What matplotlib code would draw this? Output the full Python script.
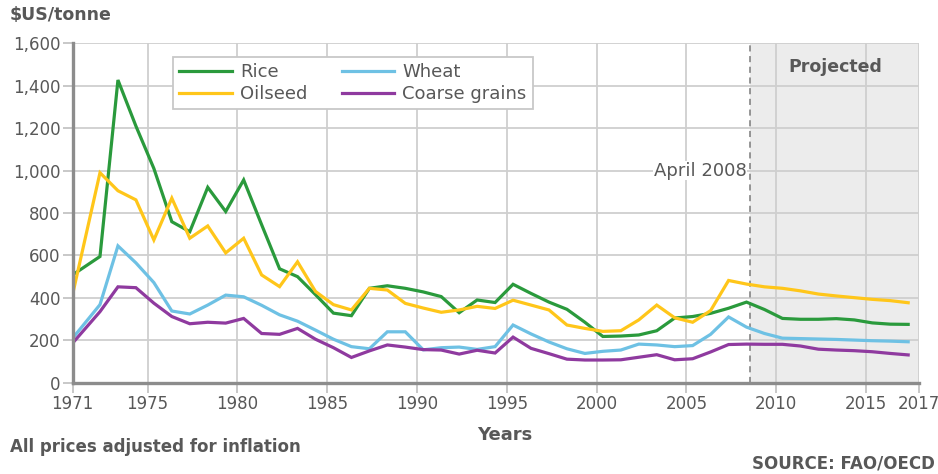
import numpy as np
import matplotlib
matplotlib.use("Agg")
import matplotlib.pyplot as plt
from matplotlib.ticker import FuncFormatter

plt.rcParams['font.family'] = ['DejaVu Sans']

years = np.arange(1971, 2018)

rice = [508, 595, 1427, 1210, 1010, 759, 712, 921, 807, 956,
        745, 537, 500, 415, 328, 316, 445, 457, 445, 428,
        406, 330, 390, 378, 464, 421, 380, 346, 285, 218,
        220, 225, 245, 305, 312, 327, 351, 380, 345, 303,
        299, 299, 302, 296, 282, 276, 275]
oilseed = [414, 990, 905, 862, 673, 870, 681, 739, 612, 681,
           508, 453, 570, 430, 368, 343, 445, 437, 374, 352,
           332, 343, 360, 350, 389, 366, 343, 272, 256, 242,
           245, 296, 366, 306, 285, 340, 482, 465, 452, 445,
           433, 418, 409, 401, 393, 387, 377]
wheat = [209, 368, 645, 565, 472, 338, 324, 366, 413, 405,
         365, 320, 290, 248, 205, 170, 160, 240, 240, 155,
         165, 168, 157, 170, 272, 230, 192, 160, 138, 148,
         154, 182, 178, 170, 175, 228, 310, 262, 232, 210,
         208, 206, 204, 201, 198, 196, 193]
coarse = [186, 335, 452, 448, 375, 312, 278, 285, 281, 303,
          232, 228, 256, 205, 165, 119, 150, 178, 168, 156,
          154, 135, 153, 140, 215, 162, 137, 111, 107, 107,
          108, 120, 132, 108, 113, 145, 180, 182, 181, 181,
          173, 158, 154, 151, 146, 138, 131]

series_names = ["Rice", "Oilseed", "Wheat", "Coarse grains"]
series_colors = ["#2a9a3c", "#ffc61a", "#6ec1e4", "#8f3a9f"]

x_ticks = [1971, 1975, 1980, 1985, 1990, 1995, 2000, 2005, 2010, 2015, 2017]
y_ticks = [0, 200, 400, 600, 800, 1000, 1200, 1400, 1600]

XMIN, XMAX = 1970.82, 2017.93
PROJ_START = 2008.56
GREY = "#585858"

fig = plt.figure(figsize=(9.38, 4.74), dpi=100)
ax = fig.add_axes([0.0773, 0.1926, 0.902, 0.716])

ax.axvspan(PROJ_START, XMAX, color="#ececec", zorder=0, lw=0)

xpos = (years + 0.35).astype(float)
xpos[0] = XMIN
for vals, name, col in zip([rice, oilseed, wheat, coarse], series_names, series_colors):
    ax.plot(xpos, vals, color=col, lw=2.3, label=name, zorder=3,
            solid_joinstyle="miter")

ax.axvline(PROJ_START, color="#7a7a7a", lw=1.1, ls=(0, (4, 3)), zorder=2)

ax.set_xlim(XMIN, XMAX)
ax.set_ylim(0, 1600)
tick_pos = [XMIN] + x_ticks[1:-1] + [XMAX]
ax.set_xticks(tick_pos)
ax.set_xticklabels([str(t) for t in x_ticks])
ax.set_yticks(y_ticks)
ax.yaxis.set_major_formatter(FuncFormatter(lambda v, p: f"{int(v):,}"))

ax.grid(True, color="#cfcfcf", lw=1.3)
ax.set_axisbelow(True)
for s in ["top", "right"]:
    ax.spines[s].set_visible(False)
for s in ["left", "bottom"]:
    ax.spines[s].set_color("#8c8c8c")
    ax.spines[s].set_linewidth(2.4)
    ax.spines[s].set_zorder(4)
ax.tick_params(axis="both", direction="out", length=7, width=1.3,
               color="#c4c4c4", labelcolor=GREY, labelsize=12, pad=1.5)

leg = ax.legend(ncol=2, loc="upper left", bbox_to_anchor=(0.1188, 0.9596),
                borderaxespad=0, frameon=True, fancybox=False,
                edgecolor="#c8c8c8", framealpha=1, fontsize=13,
                handlelength=2.9, columnspacing=1.9, labelspacing=0.2,
                handletextpad=0.45, borderpad=0.35, labelcolor=GREY)
leg.get_frame().set_linewidth(1.3)
leg.set_zorder(5)

ax.text(2008.35, 1000, "April 2008", ha="right", va="center", color=GREY,
        fontsize=13, zorder=3,
        bbox=dict(facecolor="white", edgecolor="none", pad=0.5))
ax.text(2010.66, 1487, "Projected", ha="left", va="center", color=GREY,
        fontsize=12.5, fontweight="bold", zorder=3)

fig.text(10 / 938, 1 - 15 / 474, r"\$US/tonne", ha="left", va="center",
         color=GREY, fontsize=12.5, fontweight="bold")
fig.text(505 / 938, 1 - 435 / 474, "Years", ha="center", va="center",
         color=GREY, fontsize=13, fontweight="bold")
fig.text(10 / 938, 1 - 447 / 474, "All prices adjusted for inflation",
         ha="left", va="center", color=GREY, fontsize=12, fontweight="bold")
fig.text(935 / 938, 1 - 463 / 474, "SOURCE: FAO/OECD", ha="right",
         va="center", color=GREY, fontsize=12, fontweight="bold")

fig.savefig("out.png", dpi=100)
